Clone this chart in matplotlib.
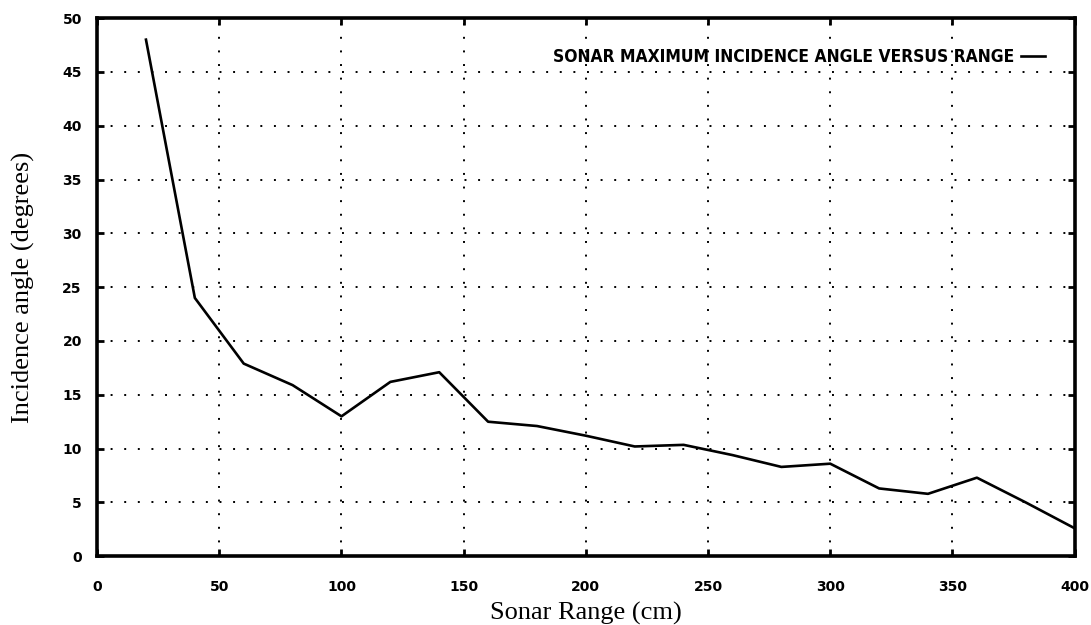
import matplotlib
matplotlib.use('Agg')
import matplotlib.pyplot as plt

# sonar range (cm) and max incidence angle (degrees)
sonar_range = [20, 40, 60, 80, 100, 120, 140, 160, 180, 200,
               220, 240, 260, 280, 300, 320, 340, 360, 380, 400]
incidence = [48.0, 24.0, 17.9, 15.9, 13.0, 16.2, 17.1, 12.5, 12.1, 11.2,
             10.2, 10.35, 9.4, 8.3, 8.6, 6.3, 5.8, 7.3, 5.0, 2.6]

x_ticks = [0, 50, 100, 150, 200, 250, 300, 350, 400]
y_ticks = [0, 5, 10, 15, 20, 25, 30, 35, 40, 45, 50]

fig = plt.figure(figsize=(10.91, 6.25), dpi=100)
ax = fig.add_axes([0.089, 0.110, 0.896, 0.861])

ax.plot(sonar_range, incidence, color='black', lw=1.9,
        label='SONAR MAXIMUM INCIDENCE ANGLE VERSUS RANGE')

ax.set_xlim(0, 400)
ax.set_ylim(0, 50)
ax.set_xticks(x_ticks)
ax.set_yticks(y_ticks)
ax.grid(True, color='black', linestyle=(0, (1, 6)), linewidth=1.4)

for s in ax.spines.values():
    s.set_linewidth(2.6)

ax.tick_params(direction='in', length=5, width=2, top=True, right=True,
               labelsize=10)
ax.tick_params(axis='x', pad=17)
ax.tick_params(axis='y', pad=11)
for lab in ax.get_xticklabels() + ax.get_yticklabels():
    lab.set_fontweight('bold')

ax.set_xlabel('Sonar Range (cm)', family='Liberation Serif', fontsize=19,
              labelpad=6)
ax.set_ylabel('Incidence angle (degrees)', family='Liberation Serif',
              fontsize=19, labelpad=20)

leg = ax.legend(loc='upper right', frameon=False, handlelength=1.4,
                handletextpad=0.4, borderaxespad=1.3,
                markerfirst=False,
                prop={'family': 'DejaVu Sans', 'weight': 'bold',
                      'stretch': 'condensed', 'size': 12.5})

fig.savefig('out.png', dpi=100)
